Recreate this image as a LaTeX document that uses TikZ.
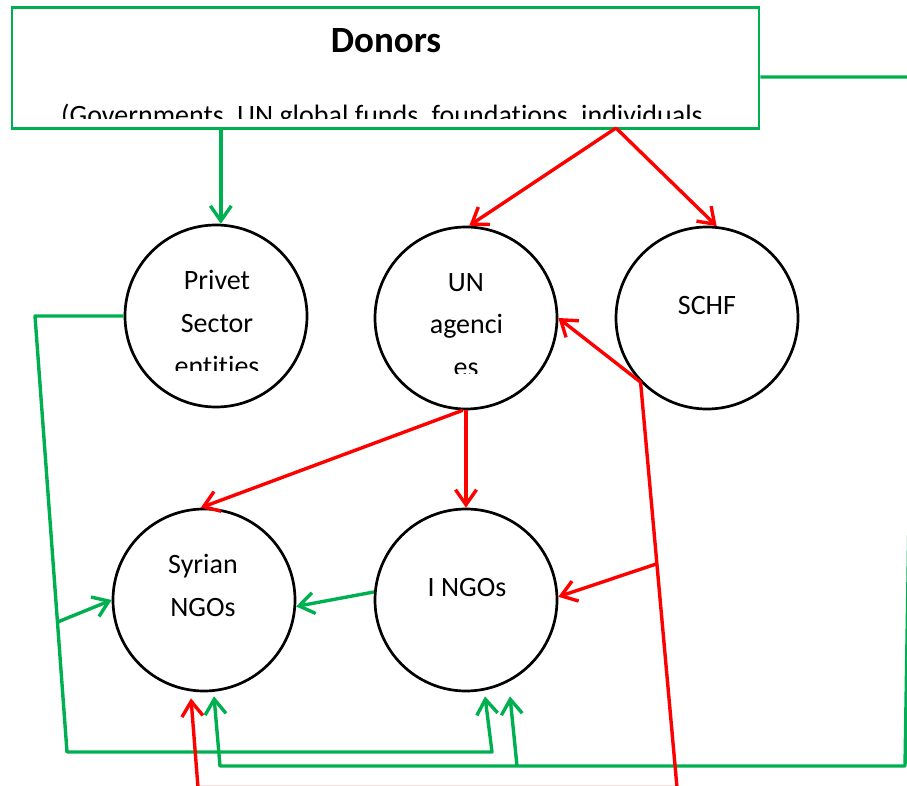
\documentclass[tikz,border=0pt]{standalone}
\usepackage{fontspec}
\setmainfont{Carlito}[Ligatures=CommonOff]
\usetikzlibrary{arrows.meta,calc}
\definecolor{dgreen}{HTML}{00B050}
\definecolor{dred}{HTML}{FF0000}
\begin{document}
\begin{tikzpicture}[x=1pt,y=-1pt,
 circ/.style={circle,draw=black,line width=2.7pt,minimum size=182pt,inner sep=0pt},
 lbl/.style={anchor=base,font=\fontsize{28}{34}\selectfont,inner sep=0pt},
 gline/.style={draw=dgreen,line width=3.4pt,line join=round},
 rline/.style={draw=dred,line width=3.4pt,line join=round},
 tip/.style={-{Straight Barb[length=15pt,width=21pt]}}
]
\useasboundingbox (0,0) rectangle (907,786);
% Donors box
\node[draw=dgreen,line width=2.8pt,minimum width=747pt,minimum height=121pt,inner sep=0pt] (donors) at (385.5,68) {};
\node[anchor=base,inner sep=0pt,font=\bfseries\fontsize{37}{40}\selectfont] (dtitle) at (386,53) {Donors};
\begin{scope}
\clip (12,8) rectangle (760,119);
\node[lbl] (dsub) at (382,125) {(Governments, UN global funds, foundations, individuals};
\end{scope}
% circles
\node[circ] (priv) at (216,316) {};
\node[circ] (un) at (466,318) {};
\node[circ] (schf) at (707,318) {};
\node[circ] (syr) at (204,600) {};
\node[circ] (ingo) at (466,600) {};
% circle texts
\begin{scope}
\clip (100,200) rectangle (330,370);
\node[lbl] (p1) at (217,290) {Privet};
\node[lbl] (p2) at (217,332.5) {Sector};
\node[lbl] (p3) at (217,375) {entities};
\end{scope}
\begin{scope}
\clip (360,200) rectangle (580,373);
\node[lbl] (u1) at (466,291) {UN};
\node[lbl] (u2) at (466.5,333.5) {agenci};
\node[lbl] (u3) at (466,376) {es};
\end{scope}
\node[lbl] (s1) at (707,314) {SCHF};
\node[lbl] (y1) at (203,573) {Syrian};
\node[lbl] (y2) at (203,616) {NGOs};
\node[lbl] (i1) at (467,596) {I NGOs};
% connectors from donors
\draw[gline,tip] (donors.south -| priv.87) -- (priv.87);
\coordinate (apex) at (616,128);
\draw[rline,tip] (apex) -- (un.88);
\draw[rline,tip] (apex) -- (schf.84);
\draw[rline,tip] (un.-92) -- (syr.92);
\draw[rline,tip] (un.-90) -- (ingo.90);
\draw[gline,tip] (ingo.175) -- (syr.-4);
% left green loop
\coordinate (l1) at (35,316);
\coordinate (l2) at (67,752);
\coordinate (l3) at (492,752);
\draw[gline,tip] (priv.west) -- (l1) -- (l2) -- (l3) -- ($(ingo.south)+(19,4)$);
\draw[gline,tip] ($(l1)!0.702!(l2)$) -- (syr.west);
% right green loop
\coordinate (r0) at ($(donors.east)+(0,9)$);
\coordinate (r1) at (916,77);
\coordinate (r2) at (905,766);
\coordinate (r3) at (220,766);
\coordinate (r4) at (517,766);
\draw[gline,tip] (r0) -- (r1) -- (r2) -- (r3) -- ($(syr.south)+(10,4)$);
\draw[gline,tip] (r4) -- ($(ingo.south)+(44,4)$);
% red bottom loop
\coordinate (b1) at (677,787.5);
\coordinate (b2) at (198,787.5);
\draw[rline,tip] (b1) -- (schf.224) -- (un.east);
\draw[rline,tip] (b1) -- (b2) -- ($(syr.south)+(-13,6)$);
\draw[rline,tip] ($(schf.224)!0.448!(b1)$) -- (ingo.2);
\end{tikzpicture}
\end{document}
